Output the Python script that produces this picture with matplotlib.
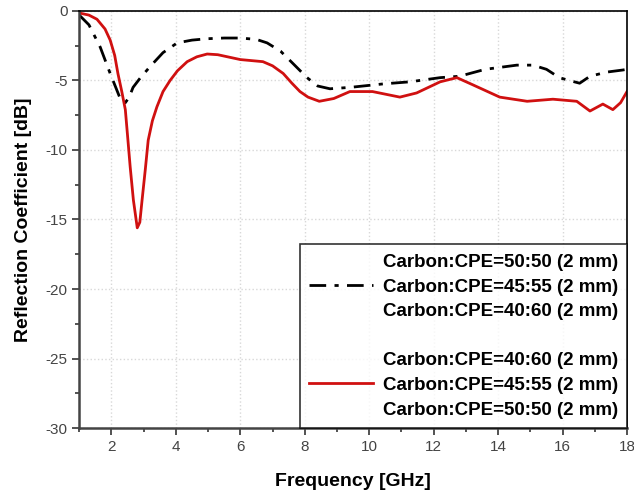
import numpy as np
import matplotlib.pyplot as plt
from matplotlib.lines import Line2D
from matplotlib.ticker import MultipleLocator

plt.rcParams['font.family'] = ['Liberation Sans', 'DejaVu Sans']
plt.rcParams['axes.unicode_minus'] = False

# black dash-dot curve
f_black = [1.0, 1.3, 1.65, 1.96, 2.15, 2.27, 2.43, 2.55, 2.67, 2.9, 3.2, 3.6, 4.04,
           4.5, 4.97, 5.5, 6.0, 6.5, 6.83, 7.25, 7.64, 8.07, 8.4, 8.78, 9.4, 10.43,
           11.26, 12.2, 12.8, 13.6, 14.58, 15.08, 15.5, 15.9, 16.2, 16.53, 16.85,
           17.37, 17.87, 18.0]
s_black = [-0.3, -1.0, -2.6, -4.5, -5.6, -6.3, -6.6, -6.2, -5.5, -4.8, -4.0, -3.0, -2.3,
           -2.1, -2.0, -1.95, -1.95, -2.05, -2.3, -2.9, -3.8, -4.8, -5.4, -5.6, -5.5, -5.25,
           -5.1, -4.8, -4.7, -4.2, -3.9, -3.9, -4.2, -4.8, -5.0, -5.2, -4.7,
           -4.4, -4.25, -4.2]

# red solid curve
f_red = [1.0, 1.3, 1.55, 1.8, 1.96, 2.1, 2.2, 2.32, 2.43, 2.5, 2.58, 2.68, 2.8, 2.88,
         2.95, 3.05, 3.14, 3.27, 3.41, 3.6, 3.82, 4.05, 4.35, 4.65, 4.97, 5.3, 5.6, 6.0,
         6.7, 7.0, 7.33, 7.6, 7.85, 8.1, 8.45, 8.9, 9.4, 10.1, 10.95, 11.47, 12.2,
         12.72, 13.2, 14.05, 14.9, 15.7, 16.44, 16.85, 17.25, 17.56, 17.8, 18.0]
s_red = [-0.15, -0.3, -0.6, -1.3, -2.1, -3.2, -4.5, -5.8, -7.1, -9.0, -11.2, -13.6, -15.6, -15.2,
         -13.6, -11.4, -9.3, -7.9, -6.9, -5.8, -5.0, -4.3, -3.65, -3.3, -3.1, -3.15, -3.3, -3.5,
         -3.65, -3.95, -4.5, -5.2, -5.8, -6.2, -6.5, -6.3, -5.8, -5.8, -6.2, -5.9, -5.1,
         -4.8, -5.3, -6.2, -6.5, -6.35, -6.5, -7.2, -6.7, -7.1, -6.6, -5.8]

labels_top = ['Carbon:CPE=50:50 (2 mm)', 'Carbon:CPE=45:55 (2 mm)', 'Carbon:CPE=40:60 (2 mm)']
labels_bot = ['Carbon:CPE=40:60 (2 mm)', 'Carbon:CPE=45:55 (2 mm)', 'Carbon:CPE=50:50 (2 mm)']

fig = plt.figure(figsize=(6.34, 4.96), dpi=100)
ax = fig.add_axes([0.125, 0.137, 0.864, 0.841])

dashdot = (0, (6, 3, 1.5, 3))
ax.plot(f_black, s_black, color='black', lw=2, linestyle=dashdot)
ax.plot(f_red, s_red, color='#d01010', lw=2)

ax.set_xlim(1, 18)
ax.set_ylim(-30, 0)
ax.xaxis.set_major_locator(MultipleLocator(2))
ax.xaxis.set_minor_locator(MultipleLocator(1))
ax.yaxis.set_major_locator(MultipleLocator(5))
ax.yaxis.set_minor_locator(MultipleLocator(2.5))
ax.grid(True, which='major', color='#d8d8d8', linestyle=':', lw=1)
ax.tick_params(which='both', direction='out', colors='#444444', labelsize=11, width=1.3)
ax.tick_params(which='major', length=5)
ax.tick_params(which='minor', length=3)
for sp in ['left', 'bottom']:
    ax.spines[sp].set_color('#444444')
    ax.spines[sp].set_linewidth(1.8)
for sp in ['top', 'right']:
    ax.spines[sp].set_linewidth(1.2)

ax.set_xlabel('Frequency [GHz]', fontsize=14, fontweight='bold', labelpad=14)
ax.set_ylabel('Reflection Coefficient [dB]', fontsize=14, fontweight='bold', labelpad=10)

blank = Line2D([], [], color='none')
handles = [blank,
           Line2D([], [], color='black', lw=2, linestyle=dashdot),
           blank, blank, blank,
           Line2D([], [], color='#d01010', lw=2),
           blank]
labs = labels_top + [''] + labels_bot
leg = ax.legend(handles, labs, loc='lower right', frameon=True,
                fancybox=False, edgecolor='black', handlelength=3.4,
                handletextpad=0.5, prop={'weight': 'bold', 'size': 13.5},
                labelspacing=0.4, borderpad=0.5, borderaxespad=0)
leg.get_frame().set_linewidth(1.2)

fig.savefig('out.png', dpi=100)
